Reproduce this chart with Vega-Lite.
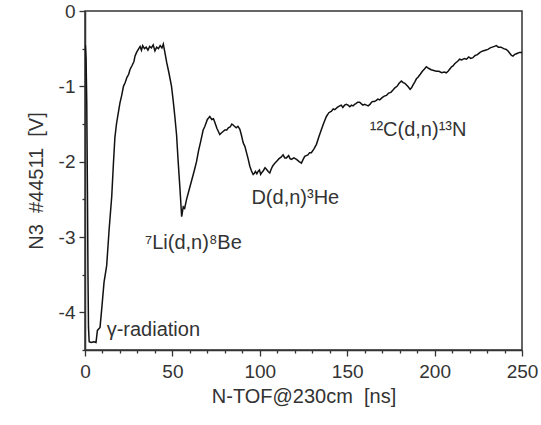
{
  "$schema": "https://vega.github.io/schema/vega-lite/v6.json",
  "width": 437,
  "height": 339,
  "autosize": {"type": "none"},
  "padding": {"left": 85, "top": 11, "right": 19, "bottom": 75},
  "background": "white",
  "config": {
    "view": {"stroke": "#333333", "strokeWidth": 1.5},
    "font": "Liberation Sans",
    "axis": {
      "domainColor": "#333333",
      "domainWidth": 1.5,
      "tickColor": "#333333",
      "tickWidth": 1.3,
      "labelColor": "#333333",
      "titleColor": "#333333",
      "labelFont": "Liberation Sans",
      "titleFont": "Liberation Sans",
      "labelFontSize": 19,
      "titleFontSize": 20,
      "titleFontWeight": "normal",
      "grid": false,
      "labelOverlap": false,
      "labelFlush": false,
      "labelBound": false
    }
  },
  "datasets": {
    "signal": [
      {"t": 0.2, "v": -0.45}, {"t": 0.6, "v": -0.62}, {"t": 1.0, "v": -1.2}, {"t": 1.4, "v": -2.4},
      {"t": 1.7, "v": -3.5}, {"t": 2.0, "v": -4.2}, {"t": 2.4, "v": -4.39}, {"t": 3.5, "v": -4.4},
      {"t": 5.0, "v": -4.39}, {"t": 6.3, "v": -4.4}, {"t": 7.1, "v": -4.24}, {"t": 8.6, "v": -4.2},
      {"t": 9.5, "v": -3.97}, {"t": 10.9, "v": -3.6}, {"t": 12.4, "v": -3.38}, {"t": 13.8, "v": -2.9},
      {"t": 15.3, "v": -2.46}, {"t": 16.2, "v": -2.05}, {"t": 17.1, "v": -1.68}, {"t": 18.0, "v": -1.5},
      {"t": 19.0, "v": -1.36}, {"t": 20.0, "v": -1.22}, {"t": 21.0, "v": -1.12}, {"t": 22.0, "v": -1.0},
      {"t": 23.0, "v": -0.95}, {"t": 24.0, "v": -0.88}, {"t": 25.0, "v": -0.84}, {"t": 25.7, "v": -0.78},
      {"t": 27.0, "v": -0.72}, {"t": 28.0, "v": -0.67}, {"t": 28.6, "v": -0.6}, {"t": 29.5, "v": -0.55},
      {"t": 30.5, "v": -0.51}, {"t": 31.5, "v": -0.47}, {"t": 32.3, "v": -0.52}, {"t": 33.0, "v": -0.46},
      {"t": 34.0, "v": -0.5}, {"t": 35.0, "v": -0.48}, {"t": 36.0, "v": -0.52}, {"t": 37.0, "v": -0.47},
      {"t": 38.0, "v": -0.49}, {"t": 39.0, "v": -0.45}, {"t": 40.0, "v": -0.53}, {"t": 41.0, "v": -0.48},
      {"t": 42.0, "v": -0.5}, {"t": 43.0, "v": -0.46}, {"t": 44.0, "v": -0.49}, {"t": 44.8, "v": -0.44},
      {"t": 45.7, "v": -0.55}, {"t": 46.7, "v": -0.68}, {"t": 48.0, "v": -0.82}, {"t": 49.5, "v": -1.0},
      {"t": 50.5, "v": -1.2}, {"t": 51.4, "v": -1.4}, {"t": 52.4, "v": -1.65}, {"t": 53.3, "v": -2.0},
      {"t": 54.3, "v": -2.35}, {"t": 55.3, "v": -2.73}, {"t": 56.2, "v": -2.6}, {"t": 57.0, "v": -2.62},
      {"t": 58.1, "v": -2.5}, {"t": 59.5, "v": -2.38}, {"t": 61.0, "v": -2.25}, {"t": 62.5, "v": -2.12},
      {"t": 63.8, "v": -2.0}, {"t": 65.0, "v": -1.85}, {"t": 66.0, "v": -1.75}, {"t": 67.6, "v": -1.58},
      {"t": 68.6, "v": -1.53}, {"t": 70.0, "v": -1.44}, {"t": 71.4, "v": -1.4}, {"t": 72.5, "v": -1.44},
      {"t": 73.5, "v": -1.43}, {"t": 74.3, "v": -1.48}, {"t": 75.5, "v": -1.56}, {"t": 76.3, "v": -1.6},
      {"t": 77.1, "v": -1.64}, {"t": 78.0, "v": -1.62}, {"t": 79.0, "v": -1.6}, {"t": 80.0, "v": -1.58},
      {"t": 81.1, "v": -1.58}, {"t": 82.0, "v": -1.55}, {"t": 83.0, "v": -1.54}, {"t": 84.0, "v": -1.5},
      {"t": 84.6, "v": -1.51}, {"t": 85.5, "v": -1.53}, {"t": 86.5, "v": -1.55}, {"t": 87.5, "v": -1.53},
      {"t": 88.6, "v": -1.57}, {"t": 89.5, "v": -1.65}, {"t": 90.5, "v": -1.75}, {"t": 91.5, "v": -1.8},
      {"t": 92.4, "v": -1.88}, {"t": 93.3, "v": -1.96}, {"t": 94.3, "v": -2.06}, {"t": 95.2, "v": -2.12},
      {"t": 96.2, "v": -2.17}, {"t": 97.0, "v": -2.15}, {"t": 97.5, "v": -2.13}, {"t": 98.3, "v": -2.16},
      {"t": 99.0, "v": -2.13}, {"t": 99.8, "v": -2.11}, {"t": 100.5, "v": -2.17}, {"t": 101.3, "v": -2.14},
      {"t": 102.0, "v": -2.12}, {"t": 103.0, "v": -2.08}, {"t": 103.8, "v": -2.1}, {"t": 104.8, "v": -2.13},
      {"t": 105.7, "v": -2.15}, {"t": 106.5, "v": -2.1}, {"t": 107.3, "v": -2.06}, {"t": 108.6, "v": -2.02},
      {"t": 109.8, "v": -1.99}, {"t": 111.0, "v": -1.96}, {"t": 112.2, "v": -1.94}, {"t": 113.3, "v": -1.91},
      {"t": 114.3, "v": -1.95}, {"t": 115.2, "v": -1.95}, {"t": 116.5, "v": -1.92}, {"t": 117.3, "v": -1.96},
      {"t": 118.1, "v": -1.97}, {"t": 119.5, "v": -1.95}, {"t": 121.0, "v": -1.97}, {"t": 122.5, "v": -2.0},
      {"t": 123.8, "v": -2.02}, {"t": 124.8, "v": -1.97}, {"t": 125.7, "v": -1.93}, {"t": 126.6, "v": -1.92},
      {"t": 127.5, "v": -1.91}, {"t": 128.5, "v": -1.88}, {"t": 129.5, "v": -1.88}, {"t": 131.0, "v": -1.83},
      {"t": 132.4, "v": -1.77}, {"t": 133.8, "v": -1.67}, {"t": 135.3, "v": -1.57}, {"t": 136.7, "v": -1.48},
      {"t": 138.1, "v": -1.4}, {"t": 139.5, "v": -1.35}, {"t": 141.0, "v": -1.33}, {"t": 142.0, "v": -1.3},
      {"t": 142.9, "v": -1.31}, {"t": 144.3, "v": -1.28}, {"t": 145.7, "v": -1.26}, {"t": 146.6, "v": -1.25},
      {"t": 147.5, "v": -1.28}, {"t": 148.5, "v": -1.25}, {"t": 149.5, "v": -1.24}, {"t": 150.5, "v": -1.25},
      {"t": 151.5, "v": -1.27}, {"t": 152.4, "v": -1.25}, {"t": 153.3, "v": -1.26}, {"t": 154.2, "v": -1.24},
      {"t": 155.0, "v": -1.23}, {"t": 156.0, "v": -1.21}, {"t": 157.1, "v": -1.21}, {"t": 158.0, "v": -1.23},
      {"t": 159.0, "v": -1.25}, {"t": 160.0, "v": -1.24}, {"t": 161.0, "v": -1.25}, {"t": 162.0, "v": -1.26},
      {"t": 163.0, "v": -1.24}, {"t": 164.0, "v": -1.21}, {"t": 164.7, "v": -1.2}, {"t": 165.6, "v": -1.2},
      {"t": 166.5, "v": -1.19}, {"t": 167.5, "v": -1.17}, {"t": 168.6, "v": -1.18}, {"t": 170.0, "v": -1.15},
      {"t": 171.2, "v": -1.13}, {"t": 172.5, "v": -1.12}, {"t": 173.7, "v": -1.09}, {"t": 175.0, "v": -1.08},
      {"t": 176.2, "v": -1.05}, {"t": 177.3, "v": -1.02}, {"t": 178.5, "v": -1.0}, {"t": 179.7, "v": -0.96},
      {"t": 181.0, "v": -0.93}, {"t": 182.0, "v": -0.95}, {"t": 183.0, "v": -0.96}, {"t": 183.8, "v": -0.98},
      {"t": 185.0, "v": -1.01}, {"t": 186.0, "v": -1.04}, {"t": 186.8, "v": -1.02}, {"t": 187.7, "v": -0.98},
      {"t": 188.7, "v": -0.94}, {"t": 189.6, "v": -0.9}, {"t": 190.5, "v": -0.88}, {"t": 191.8, "v": -0.84},
      {"t": 193.0, "v": -0.8}, {"t": 194.2, "v": -0.77}, {"t": 195.3, "v": -0.74}, {"t": 196.5, "v": -0.76},
      {"t": 198.0, "v": -0.78}, {"t": 199.5, "v": -0.79}, {"t": 201.0, "v": -0.8}, {"t": 202.5, "v": -0.8},
      {"t": 204.0, "v": -0.82}, {"t": 205.5, "v": -0.81}, {"t": 206.7, "v": -0.82}, {"t": 207.7, "v": -0.8},
      {"t": 208.7, "v": -0.77}, {"t": 209.7, "v": -0.74}, {"t": 210.5, "v": -0.73}, {"t": 211.5, "v": -0.7},
      {"t": 212.5, "v": -0.68}, {"t": 213.5, "v": -0.66}, {"t": 214.3, "v": -0.64}, {"t": 215.5, "v": -0.65},
      {"t": 217.0, "v": -0.63}, {"t": 218.3, "v": -0.64}, {"t": 219.5, "v": -0.61}, {"t": 220.7, "v": -0.63},
      {"t": 221.9, "v": -0.62}, {"t": 223.2, "v": -0.59}, {"t": 224.5, "v": -0.58}, {"t": 226.0, "v": -0.55},
      {"t": 227.6, "v": -0.53}, {"t": 229.0, "v": -0.52}, {"t": 230.5, "v": -0.51}, {"t": 231.8, "v": -0.49},
      {"t": 233.0, "v": -0.48}, {"t": 234.2, "v": -0.47}, {"t": 235.3, "v": -0.46}, {"t": 236.5, "v": -0.48},
      {"t": 238.0, "v": -0.48}, {"t": 239.5, "v": -0.5}, {"t": 241.0, "v": -0.51}, {"t": 242.0, "v": -0.53},
      {"t": 243.0, "v": -0.56}, {"t": 244.0, "v": -0.59}, {"t": 244.8, "v": -0.6}, {"t": 245.7, "v": -0.58},
      {"t": 246.5, "v": -0.57}, {"t": 247.5, "v": -0.56}, {"t": 248.5, "v": -0.55}, {"t": 249.5, "v": -0.55},
      {"t": 250.0, "v": -0.55}
    ],
    "labels": [
      {"t": 12.4, "v": -4.32, "label": "γ-radiation"},
      {"t": 34.3, "v": -3.165, "label": "⁷Li(d,n)⁸Be"},
      {"t": 95.2, "v": -2.567, "label": "D(d,n)³He"},
      {"t": 162.9, "v": -1.66, "label": "¹²C(d,n)¹³N"}
    ]
  },
  "encoding": {
    "x": {
      "field": "t",
      "type": "quantitative",
      "scale": {"domain": [0, 250], "nice": false, "zero": false},
      "axis": {
        "title": "N-TOF@230cm\u00a0\u00a0[ns]",
        "values": [0, 10, 20, 30, 40, 50, 60, 70, 80, 90, 100, 110, 120, 130, 140, 150, 160, 170, 180, 190, 200, 210, 220, 230, 240, 250],
        "tickSize": {"condition": {"test": "datum.value % 50 === 0", "value": 6}, "value": 3},
        "labelExpr": "datum.value % 50 === 0 ? format(datum.value, 'd') : ''",
        "labelPadding": 6,
        "titlePadding": 5
      }
    },
    "y": {
      "field": "v",
      "type": "quantitative",
      "scale": {"domain": [-4.5, 0], "nice": false, "zero": false},
      "axis": {
        "title": "N3\u00a0\u00a0#44511\u00a0\u00a0[V]",
        "values": [0, -0.5, -1, -1.5, -2, -2.5, -3, -3.5, -4, -4.5],
        "tickSize": {"condition": {"test": "datum.value % 1 === 0", "value": 6}, "value": 3},
        "labelExpr": "datum.value % 1 === 0 ? (datum.value === 0 ? '0' : '-' + format(abs(datum.value), 'd')) : ''",
        "labelPadding": 4,
        "titlePadding": 12
      }
    }
  },
  "layer": [
    {
      "data": {"name": "signal"},
      "mark": {"type": "line", "color": "#111111", "strokeWidth": 1.5, "clip": true}
    },
    {
      "data": {"name": "labels"},
      "mark": {"type": "text", "align": "left", "baseline": "alphabetic", "font": "Liberation Sans", "fontSize": 20, "color": "#333333"},
      "encoding": {
        "text": {"field": "label", "type": "nominal"}
      }
    }
  ]
}
